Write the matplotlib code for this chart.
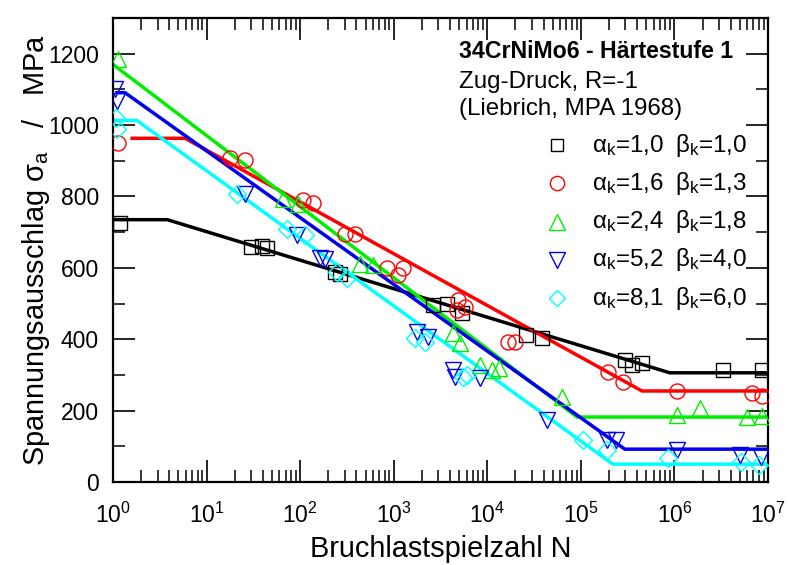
import matplotlib.pyplot as plt
from matplotlib.ticker import MultipleLocator, LogLocator, NullFormatter, FixedLocator

plt.rcParams["font.family"] = ["Liberation Sans", "DejaVu Sans"]
plt.rcParams["mathtext.fontset"] = "custom"
plt.rcParams["mathtext.rm"] = "Liberation Sans"
plt.rcParams["mathtext.it"] = "Liberation Sans:italic"
plt.rcParams["mathtext.bf"] = "Liberation Sans:bold"

n_ak10 = [1.19, 30, 39, 44, 235, 267, 2630, 3700, 5400, 26000, 38000,
          2.95e5, 3.5e5, 4.5e5, 3.3e6, 8.7e6]
s_ak10 = [727, 658, 660, 657, 587, 582, 495, 498, 473, 411, 403,
          341, 327, 333, 313, 313]

n_ak16 = [1.12, 17.8, 25.7, 107, 137, 302, 385, 850, 1110, 1260, 4900, 4730,
          5750, 16600, 19700, 1.95e5, 2.8e5, 1.07e6, 6.8e6, 8.7e6]
s_ak16 = [951, 909, 903, 789, 783, 696, 696, 599, 579, 601, 509, 481,
          490, 392, 392, 308, 280, 255, 249, 240]

n_ak24 = [1.12, 66, 95, 437, 603, 4270, 5130, 8300, 11200, 13500, 63000,
          1.07e6, 1.86e6, 6.0e6, 8.7e6]
s_ak24 = [1186, 794, 780, 612, 607, 417, 389, 327, 313, 319, 238,
          187, 207, 182, 185]

n_ak52 = [1.05, 1.1, 26, 93, 162, 184, 1780, 2340, 4270, 4470, 8300, 43600,
          1.9e5, 2.4e5, 1.07e6, 5.0e6, 8.5e6]
s_ak52 = [1100, 1068, 808, 691, 629, 626, 420, 405, 313, 294, 291, 173,
          117, 117, 90, 76, 70]

n_ak81 = [1.08, 1.1, 21, 72, 112, 245, 316, 1700, 2140, 5500, 6000,
          1.05e5, 1.9e5, 8.5e5, 5.2e6, 8.1e6]
s_ak81 = [1020, 990, 808, 710, 691, 587, 571, 403, 392, 294, 299,
          117, 90, 67, 56, 48]

# Woehler lines (breakpoints)
ln_ak10 = [1, 3.8, 8.9e5, 1e7]
ls_ak10 = [735, 735, 306, 306]
ln_ak16 = [1.6, 5.9, 4.5e5, 1e7]
ls_ak16 = [963, 963, 255, 255]
ln_ak24 = [1, 9.1e4, 1e7]
ls_ak24 = [1170, 182, 182]
ln_ak52 = [1.1, 1.34, 2.95e5, 1e7]
ls_ak52 = [1091, 1091, 92, 92]
ln_ak81 = [1, 1.8, 2.2e5, 1e7]
ls_ak81 = [1013, 1013, 50, 50]

alpha_k = ["1,0", "1,6", "2,4", "5,2", "8,1"]
beta_k = ["1,0", "1,3", "1,8", "4,0", "6,0"]
x_decades = [1e0, 1e1, 1e2, 1e3, 1e4, 1e5, 1e6, 1e7]

series = [
    (n_ak10, s_ak10, ln_ak10, ls_ak10, "black", "s", 9.4),
    (n_ak16, s_ak16, ln_ak16, ls_ak16, "#ff0000", "o", 10.8),
    (n_ak24, s_ak24, ln_ak24, ls_ak24, "#00ee00", "^", 11.5),
    (n_ak52, s_ak52, ln_ak52, ls_ak52, "#0000ee", "v", 11.5),
    (n_ak81, s_ak81, ln_ak81, ls_ak81, "#00ffff", "D", 8.8),
]

fig = plt.figure(figsize=(7.88, 5.65), dpi=100)
ax = fig.add_axes([0.1434, 0.1469, 0.8312, 0.8212])

for i, (n, s, ln, ls, col, mk, ms) in enumerate(series):
    ax.plot(ln, ls, color=col, lw=2.5, zorder=2)
    ax.plot(n, s, ls="none", marker=mk, ms=ms, mfc="none", mec=col, mew=1.0, zorder=3)
    # legend entry
    yy = 0.726 - i * 0.0824
    ax.plot([0.678], [yy], transform=ax.transAxes, ls="none", marker=mk, ms=ms * 0.95,
            mfc="none", mec=col, mew=1.0)
    ax.text(0.731, yy, r"α$_\mathrm{k}$=" + alpha_k[i], transform=ax.transAxes,
            fontsize=17.4, va="center", ha="left")
    ax.text(0.858, yy, r"β$_\mathrm{k}$=" + beta_k[i], transform=ax.transAxes,
            fontsize=17.4, va="center", ha="left")

ax.text(0.528, 0.927, "34CrNiMo6 - Härtestufe 1", transform=ax.transAxes,
        fontsize=16.7, fontweight="bold", va="center", ha="left")
ax.text(0.528, 0.862, "Zug-Druck, R=-1", transform=ax.transAxes,
        fontsize=17.4, va="center", ha="left")
ax.text(0.528, 0.804, "(Liebrich, MPA 1968)", transform=ax.transAxes,
        fontsize=17.4, va="center", ha="left")

ax.set_xscale("log")
ax.set_xlim(1, 1e7)
ax.set_ylim(0, 1300)
ax.set_yticks(range(0, 1201, 200))
ax.yaxis.set_minor_locator(MultipleLocator(100))
ax.xaxis.set_major_locator(FixedLocator(x_decades))
ax.xaxis.set_minor_locator(LogLocator(base=10, subs=range(2, 10), numticks=100))
ax.xaxis.set_minor_formatter(NullFormatter())

ax.tick_params(which="major", direction="in", length=16, width=1.2,
               top=True, right=True, labelsize=16.5)
ax.tick_params(which="minor", direction="in", length=8.5, width=1.1,
               top=True, right=True)
ax.tick_params(axis="x", which="major", pad=15)
ax.tick_params(axis="y", which="major", pad=10)
for spine in ax.spines.values():
    spine.set_linewidth(1.6)

ax.set_xlabel("Bruchlastspielzahl N", fontsize=20.8, labelpad=5)
ax.set_ylabel(r"Spannungsausschlag σ$_\mathrm{a}$   /   MPa", fontsize=20.8, labelpad=-3)

plt.savefig("out.png", dpi=100)
